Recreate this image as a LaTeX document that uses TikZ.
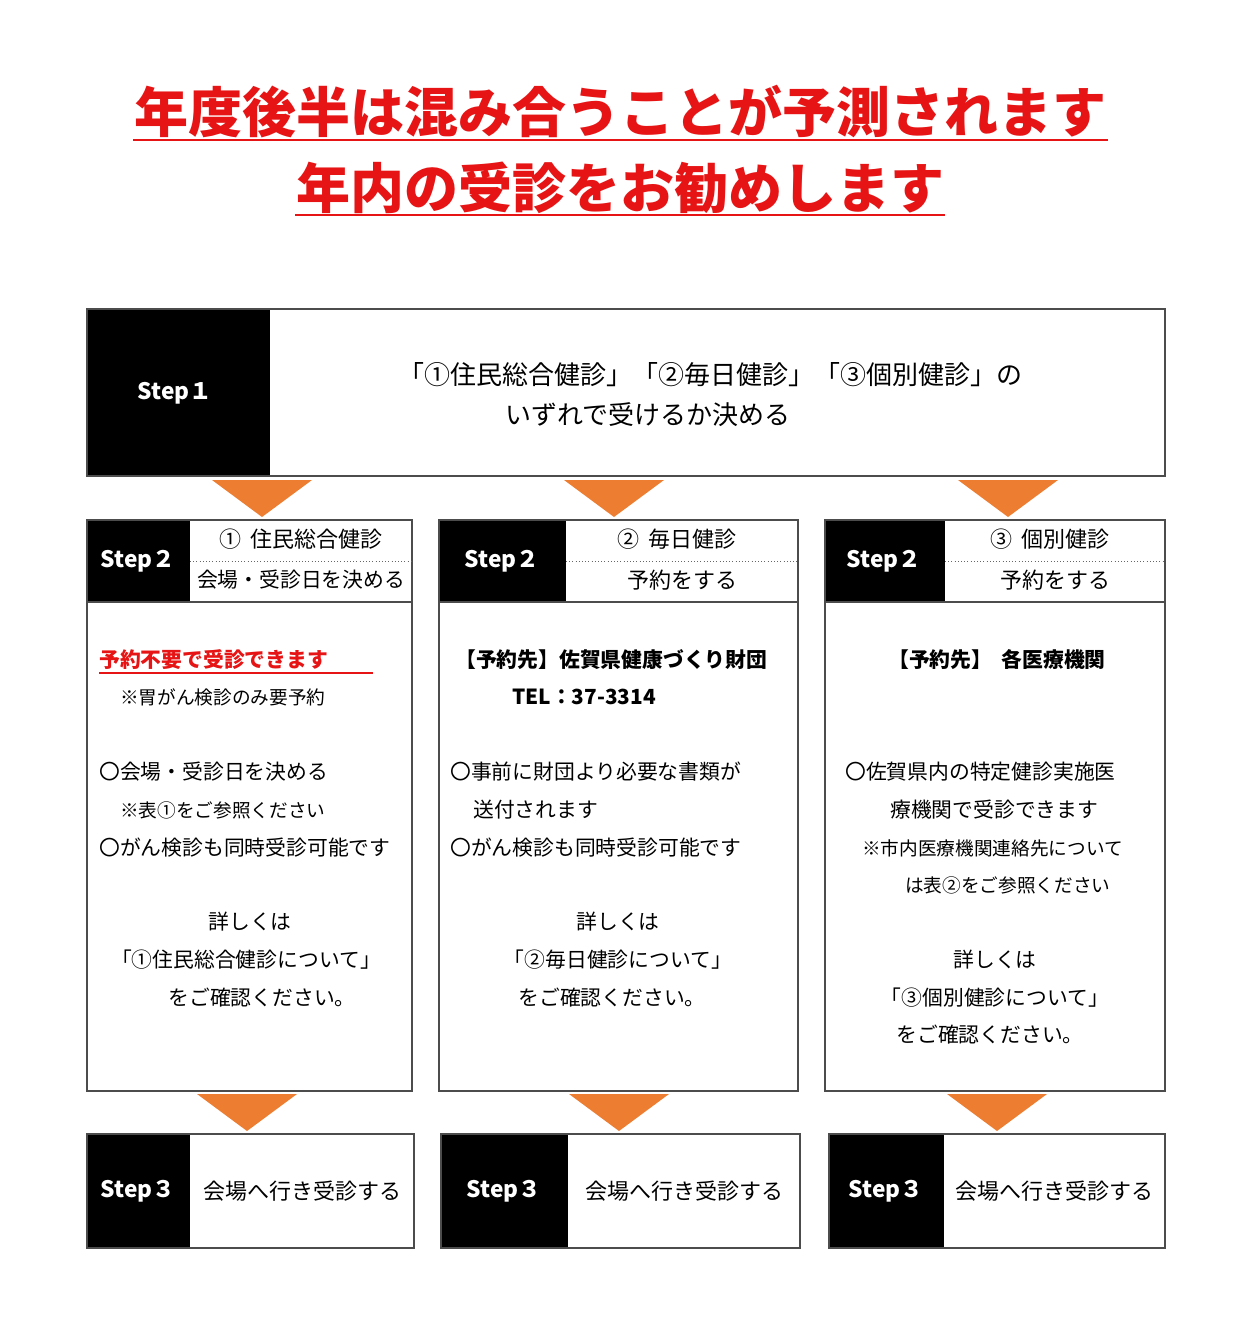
\documentclass[tikz,border=0pt]{standalone}
\usepackage{fontspec}
\setmainfont{Noto Sans CJK JP}
\definecolor{ored}{RGB}{230,20,20}
\definecolor{orng}{RGB}{237,125,49}
\tikzset{x=0.75pt,y=-0.75pt,
 box/.style={draw=black!70,line width=0.8pt},
 blk/.style={fill=black},
 steplbl/.style={text=white,font=\fontsize{17}{20}\selectfont\bfseries},
 body/.style={font=\fontsize{15.6}{19}\selectfont,inner sep=0pt},
 bodyb/.style={font=\fontsize{15.6}{19}\selectfont\bfseries,inner sep=0pt},
 small/.style={font=\fontsize{14}{17}\selectfont,inner sep=0pt},
 tri/.style={fill=orng}}
\begin{document}
\begin{tikzpicture}
\useasboundingbox (0,0) rectangle (1241,1327);
% title
\node[text=ored,font=\fontsize{40.5}{46}\selectfont\bfseries] (t1) at (620,112) {年度後半は混み合うことが予測されます};
\node[text=ored,font=\fontsize{40.5}{46}\selectfont\bfseries] (t2) at (620,188) {年内の受診をお勧めします};
\draw[ored,line width=2.2pt] (133,140) -- (1108,140);
\draw[ored,line width=2.2pt] (295,215) -- (945,215);
% step1
\fill[blk] (87,309) rectangle (270,476);
\draw[box] (87,309) rectangle (1165,476);
\node[steplbl] (s1) at (175,393) {Step１};
\node[font=\fontsize{19.5}{22}\selectfont,inner sep=0pt] (s1a) at (710,375) {「①住民総合健診」「②毎日健診」「③個別健診」の};
\node[font=\fontsize{19.5}{22}\selectfont,inner sep=0pt] (s1b) at (648,415) {いずれで受けるか決める};
% triangles
\foreach \c in {262,614,1008} \fill[tri] (\c-50,480) -- (\c+50,480) -- (\c,517) -- cycle;
\foreach \c in {247,619,997} \fill[tri] (\c-50,1094) -- (\c+50,1094) -- (\c,1131) -- cycle;
% step2 boxes
\foreach \l/\b/\r in {87/190/412,439/566/798,825/945/1165}{
 \fill[blk] (\l,520) rectangle (\b,602);
 \draw[box] (\l,520) rectangle (\r,1091);
 \draw[box] (\l,602) -- (\r,602);
 \draw[black!60,dotted] (\b,561) -- (\r,561);
}
\node[steplbl] (s2a) at (138,561) {Step２};
\node[steplbl] (s2b) at (502,561) {Step２};
\node[steplbl] (s2c) at (884,561) {Step２};
\node[body,font=\fontsize{16.5}{19}\selectfont] (h1a) at (301,539) {①\ \ 住民総合健診};
\node[body] (h1b) at (301,580) {会場・受診日を決める};
\node[body,font=\fontsize{16.5}{19}\selectfont] (h2a) at (677,539) {②\ \ 毎日健診};
\node[body,font=\fontsize{16.5}{19}\selectfont] (h2b) at (682,580) {予約をする};
\node[body,font=\fontsize{16.5}{19}\selectfont] (h3a) at (1050,539) {③\ \ 個別健診};
\node[body,font=\fontsize{16.5}{19}\selectfont] (h3b) at (1055,580) {予約をする};
% col1
\node[bodyb,anchor=west,text=ored] (c1a) at (99,660) {予約不要で受診できます};
\draw[ored,line width=1.2pt] (99,673) -- (373,673);
\node[small,anchor=west] (c1b) at (120,697) {※胃がん検診のみ要予約};
\node[body,anchor=west] (c1c) at (99,772) {〇会場・受診日を決める};
\node[small,anchor=west] (c1d) at (120,810) {※表①をご参照ください};
\node[body,anchor=west] (c1e) at (99,848) {〇がん検診も同時受診可能です};
\node[body] (c1f) at (250,922) {詳しくは};
\node[body] (c1g) at (246,960) {「①住民総合健診について」};
\node[body] (c1h) at (262,998) {をご確認ください。};
% col2
\node[bodyb,anchor=west] (c2a) at (455,660) {【予約先】佐賀県健康づくり財団};
\node[bodyb,anchor=west] (c2b) at (512,697) {TEL：37-3314};
\node[body,anchor=west] (c2c) at (450,772) {〇事前に財団より必要な書類が};
\node[body,anchor=west] (c2d) at (473,810) {送付されます};
\node[body,anchor=west] (c2e) at (450,848) {〇がん検診も同時受診可能です};
\node[body] (c2f) at (618,922) {詳しくは};
\node[body] (c2g) at (618,960) {「②毎日健診について」};
\node[body] (c2h) at (612,998) {をご確認ください。};
% col3
\node[bodyb] (c3a) at (997,660) {【予約先】\ \ 各医療機関};
\node[body,anchor=west] (c3b) at (845,772) {〇佐賀県内の特定健診実施医};
\node[body,anchor=west] (c3c) at (890,810) {療機関で受診できます};
\node[small,anchor=west] (c3d) at (862,848) {※市内医療機関連絡先について};
\node[small,anchor=west] (c3e) at (905,885) {は表②をご参照ください};
\node[body] (c3f) at (995,960) {詳しくは};
\node[body] (c3g) at (995,998) {「③個別健診について」};
\node[body] (c3h) at (990,1035) {をご確認ください。};
% step3
\foreach \l/\b/\r in {87/190/414,441/568/800,829/944/1165}{
 \fill[blk] (\l,1134) rectangle (\b,1248);
 \draw[box] (\l,1134) rectangle (\r,1248);
}
\node[steplbl] (s3a) at (138,1191) {Step３};
\node[steplbl] (s3b) at (504,1191) {Step３};
\node[steplbl] (s3c) at (886,1191) {Step３};
\node[body,font=\fontsize{16.5}{19}\selectfont] (f1) at (302,1191) {会場へ行き受診する};
\node[body,font=\fontsize{16.5}{19}\selectfont] (f2) at (684,1191) {会場へ行き受診する};
\node[body,font=\fontsize{16.5}{19}\selectfont] (f3) at (1054,1191) {会場へ行き受診する};
\end{tikzpicture}
\end{document}
